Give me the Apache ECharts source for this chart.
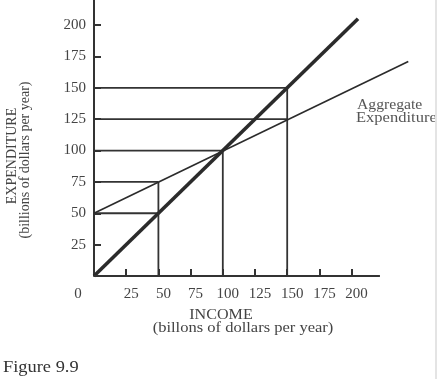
<!DOCTYPE html>
<html>
<head>
<meta charset="utf-8">
<script src="https://cdn.jsdelivr.net/npm/echarts@6/dist/echarts.min.js"></script>
<style>html,body{margin:0;padding:0;background:#fff;}#c{width:437px;height:379px;}</style>
</head>
<body>
<div id="c"></div>
<script>
// Tick labels
const xTicks = [25, 50, 75, 100, 125, 150, 175, 200];
const yTicks = [25, 50, 75, 100, 125, 150, 175, 200];
// Visible extent of the income axis line
const xAxisEnd = 222;
// 45-degree line (expenditure = income)
const line45 = [[0, 0], [205, 205]];
// Aggregate expenditure line
const aeLine = [[0, 50], [244, 171]];
// Incomes marked with guide lines and AE at those incomes
const markIncome = [50, 100, 150];
const markAE = [75, 100, 125];

const font = 'Liberation Serif, Times New Roman, serif';
const txt = '#444';
const ink = '#2b2b2b';

const guideSeries = [];
markIncome.forEach((inc, i) => {
  const levels = [inc, markAE[i]].filter((v, j, a) => a.indexOf(v) === j);
  levels.forEach(lv => guideSeries.push([[0, lv], [inc, lv]]));
  guideSeries.push([[inc, Math.max(inc, markAE[i])], [inc, 0]]);
});

const series = guideSeries.map((d, k) => ({
  type: 'line', name: 'guide' + k, data: d, showSymbol: false, silent: true,
  lineStyle: { color: '#333', width: 1.8 }, z: 2
}));
series.push({
  type: 'line', name: 'Aggregate Expenditure', data: aeLine, showSymbol: false, clip: false,
  lineStyle: { color: ink, width: 1.6 }, z: 3,
  markLine: {
    silent: true, symbol: 'none', label: { show: false },
    lineStyle: { color: '#333', width: 2, type: 'solid' },
    data: [[{ coord: [0, 0] }, { coord: [xAxisEnd, 0] }]]
  }
});
series.push({
  type: 'line', name: '45 degree', data: line45, showSymbol: false, clip: false,
  lineStyle: { color: ink, width: 3.6 }, z: 4
});

const chart = echarts.init(document.getElementById('c'));
chart.setOption({
  animation: false,
  backgroundColor: '#fff',
  grid: { left: 94, right: 27.44, top: 0, bottom: 103 },
  xAxis: {
    type: 'value', min: 0, max: 245,
    splitLine: { show: false },
    axisLine: { show: false },
    axisTick: { show: true, inside: true, length: 7, customValues: xTicks, lineStyle: { color: '#333', width: 2 } },
    axisLabel: { customValues: xTicks, margin: 11, color: txt, fontFamily: font, fontSize: 15, padding: [0, 0, 0, 10] }
  },
  yAxis: {
    type: 'value', min: 0, max: 220,
    splitLine: { show: false },
    axisLine: { show: true, lineStyle: { color: '#333', width: 2 } },
    axisTick: { show: true, inside: true, length: 7, customValues: yTicks, lineStyle: { color: '#333', width: 2 } },
    axisLabel: { customValues: yTicks, margin: 8, color: txt, fontFamily: font, fontSize: 15 }
  },
  series: series,
  graphic: [
    { type: 'text', x: 78, y: 294, style: { text: '0', fill: txt, font: '15px ' + font, textAlign: 'center', textVerticalAlign: 'middle' } },
    { type: 'text', x: 221, y: 315, scaleX: 1.15, style: { text: 'INCOME', fill: txt, font: '14px ' + font, textAlign: 'center', textVerticalAlign: 'middle' } },
    { type: 'text', x: 243, y: 328, scaleX: 1.18, style: { text: '(billons of dollars per year)', fill: txt, font: '14px ' + font, textAlign: 'center', textVerticalAlign: 'middle' } },
    { type: 'text', x: 12, y: 156, rotation: Math.PI / 2, style: { text: 'EXPENDITURE', fill: txt, font: '14px ' + font, textAlign: 'center', textVerticalAlign: 'middle' } },
    { type: 'text', x: 25, y: 160, rotation: Math.PI / 2, style: { text: '(billions of dollars per year)', fill: txt, font: '14px ' + font, textAlign: 'center', textVerticalAlign: 'middle' } },
    { type: 'text', x: 357, y: 105, scaleX: 1.12, style: { text: 'Aggregate', fill: '#555', font: '14px ' + font, textAlign: 'left', textVerticalAlign: 'middle' } },
    { type: 'text', x: 356, y: 118, scaleX: 1.18, style: { text: 'Expenditure', fill: '#555', font: '14px ' + font, textAlign: 'left', textVerticalAlign: 'middle' } },
    { type: 'text', x: 3, y: 368, scaleX: 1.15, style: { text: 'Figure 9.9', fill: '#333', font: '16px ' + font, textAlign: 'left', textVerticalAlign: 'middle' } },
    { type: 'rect', shape: { x: 435, y: 0, width: 2, height: 379 }, style: { fill: '#e4e4e4' }, silent: true }
  ]
});
</script>
</body>
</html>
